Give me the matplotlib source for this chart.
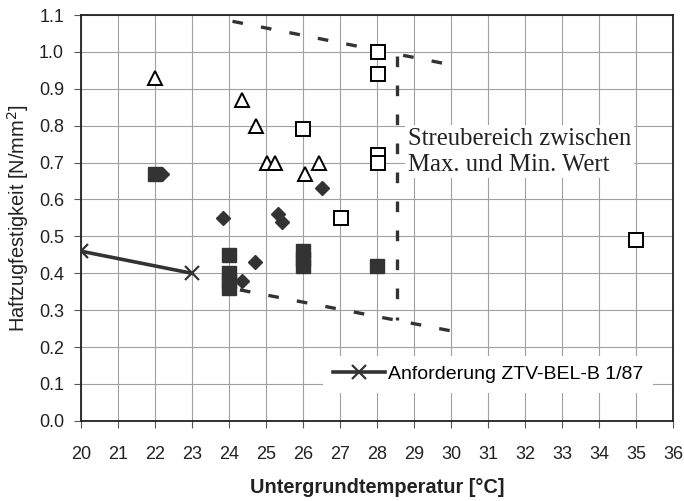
import matplotlib
matplotlib.use("Agg")
import matplotlib.pyplot as plt

plt.rcParams['font.family'] = ['Liberation Sans', 'DejaVu Sans']

# open triangles
tri_x = [22.0, 24.35, 24.73, 25.04, 25.26, 26.05, 26.44]
tri_y = [0.93, 0.87, 0.80, 0.70, 0.70, 0.67, 0.70]

# open squares
osq_x = [26.0, 27.02, 28.03, 28.03, 28.03, 28.03, 35.0]
osq_y = [0.79, 0.55, 1.00, 0.94, 0.72, 0.70, 0.49]

# filled squares
fsq_x = [22.0, 24.0, 24.0, 24.0, 24.0, 26.0, 26.0, 26.0, 28.0]
fsq_y = [0.67, 0.45, 0.40, 0.38, 0.36, 0.46, 0.44, 0.42, 0.42]

# filled diamonds
dia_x = [22.2, 23.85, 25.33, 25.45, 26.53, 24.72, 24.35]
dia_y = [0.67, 0.55, 0.56, 0.54, 0.63, 0.43, 0.38]

# requirement line
req_x = [20, 23]
req_y = [0.46, 0.40]

# scatter range (dashed)
top_x = [24.1, 30.15]
top_y = [1.083, 0.962]
bot_x = [24.3, 30.2]
bot_y = [0.355, 0.240]
vert_x = [28.55, 28.55]
vert_y = [0.99, 0.272]

fig = plt.figure(figsize=(6.84, 5.01), dpi=100)
ax = fig.add_axes([0.118, 0.160, 0.866, 0.810])

dark = '#333333'
ax.plot(top_x, top_y, color=dark, lw=2.4, dashes=(3.2, 5.5), zorder=3)
ax.plot(bot_x, bot_y, color=dark, lw=2.4, dashes=(3.2, 5.5), zorder=3)
ax.plot(vert_x, vert_y, color=dark, lw=2.4, dashes=(3.2, 5.5), zorder=3)

ax.plot(fsq_x, fsq_y, ls='none', marker='s', ms=9.5, color=dark, zorder=4)
ax.plot(dia_x, dia_y, ls='none', marker='D', ms=7.5, color=dark, zorder=4)
ax.plot(tri_x, tri_y, ls='none', marker='^', ms=10, mfc='white', mec='black',
        mew=1.4, zorder=4)
ax.plot(osq_x, osq_y, ls='none', marker='s', ms=9.5, mfc='white', mec='black',
        mew=1.4, zorder=4)

ax.plot(req_x, req_y, color=dark, lw=2.6, marker='x', ms=10, mew=1.6,
        mec=dark, label='Anforderung ZTV-BEL-B 1/87', zorder=5)

ax.text(28.83, 0.729, 'Streubereich zwischen\nMax. und Min. Wert',
        family='Liberation Serif', fontsize=17.8, va='center', ha='left',
        linespacing=1.2, color='#222222',
        bbox=dict(facecolor='white', edgecolor='none', pad=2), zorder=3)

ax.set_xlim(20, 36)
ax.set_ylim(0, 1.1)
ax.set_xticks(range(20, 37))
ax.set_yticks([i / 10 for i in range(12)])
ax.set_yticklabels(['%.1f' % (i / 10) for i in range(12)])
ax.grid(True, color='#a0a0a0', lw=0.8)
ax.set_axisbelow(True)

for s in ax.spines.values():
    s.set_color('#222222')
    s.set_linewidth(1.3)

ax.tick_params(axis='both', direction='out', length=5, color='#555555',
               labelsize=13, labelcolor='#222222')
ax.tick_params(axis='x', pad=13)
ax.tick_params(axis='y', pad=7)

ax.set_xlabel('Untergrundtemperatur [°C]', fontsize=14.4, fontweight='bold',
              color='#222222', labelpad=11)
ax.set_ylabel('Haftzugfestigkeit [N/mm$^2$]', fontsize=14.4, color='#222222',
              labelpad=6)

leg = ax.legend(loc='lower right', bbox_to_anchor=(0.983, 0.045), frameon=True,
                handlelength=2.7, handletextpad=0.15, borderpad=0.5,
                fontsize=14)
leg.get_frame().set_edgecolor('none')
leg.get_frame().set_facecolor('white')
leg.get_frame().set_alpha(1)

fig.savefig('out.png', dpi=100)
